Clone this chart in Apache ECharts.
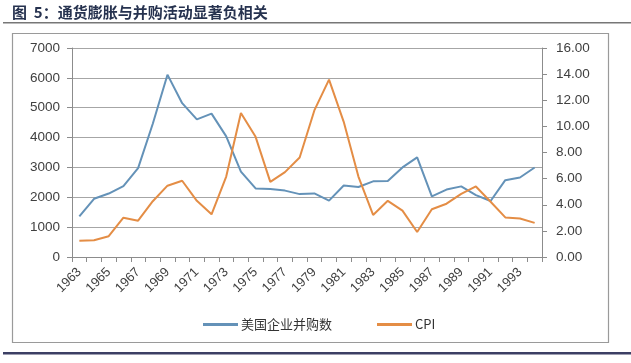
<!DOCTYPE html>
<html>
<head>
<meta charset="utf-8">
<script src="https://cdn.jsdelivr.net/npm/echarts@6/dist/echarts.min.js"></script>
<style>
html,body{margin:0;padding:0;background:#fff;}
#c{width:631px;height:363px;}
</style>
</head>
<body>
<div id="c"></div>
<script>
var years = [];
for (var y = 1963; y <= 1994; y++) years.push(String(y));
var mnaCounts = [1361,1950,2125,2377,2975,4462,6107,5152,4608,4801,4040,2861,2297,2276,2224,2106,2128,1889,2395,2346,2533,2543,3001,3336,2032,2258,2366,2074,1877,2574,2663,2997];
var cpi = [1.24,1.28,1.59,3.01,2.78,4.27,5.46,5.84,4.30,3.27,6.16,11.03,9.20,5.75,6.50,7.62,11.22,13.58,10.35,6.16,3.22,4.30,3.55,1.91,3.66,4.08,4.83,5.40,4.23,3.03,2.95,2.61];
var seriesNames = ['美国企业并购数', 'CPI'];
var titleText = '图  5：通货膨胀与并购活动显著负相关';

var FONT = '"Liberation Sans", "Noto Sans CJK SC", sans-serif';
var chart = echarts.init(document.getElementById('c'), null, {renderer: 'canvas'});
chart.setOption({
  animation: false,
  backgroundColor: '#fff',
  textStyle: {fontFamily: FONT},
  graphic: [
    {type: 'text', left: 12, top: 5, style: {text: titleText, fill: '#26324f', font: 'bold 15px "Noto Sans CJK SC", sans-serif'}},
    {type: 'rect', shape: {x: 3, y: 22, width: 628, height: 1.5}, style: {fill: '#777'}},
    {type: 'rect', shape: {x: 12.5, y: 33.5, width: 596, height: 309}, style: {fill: 'none', stroke: '#9a9a9a', lineWidth: 1.2}},
    {type: 'rect', shape: {x: 3, y: 352, width: 628, height: 2.5}, style: {fill: '#3c3f64'}}
  ],
  grid: {left: 72, right: 89, top: 48, bottom: 106},
  legend: {
    left: 198, top: 313,
    itemWidth: 35, itemHeight: 3, itemGap: 45,
    icon: 'rect',
    textStyle: {fontSize: 13, color: '#333', fontFamily: '"Noto Sans CJK SC", sans-serif', padding: [0,0,0,-2]},
    data: seriesNames
  },
  xAxis: {
    type: 'category',
    data: years,
    boundaryGap: true,
    axisLine: {lineStyle: {color: '#8c8c8c', width: 1}},
    axisTick: {show: true, interval: 0, length: 5, lineStyle: {color: '#8c8c8c'}},
    axisLabel: {interval: 1, rotate: 45, fontSize: 13, color: '#404040', margin: 13}
  },
  yAxis: [
    {
      type: 'value', min: 0, max: 7000, interval: 1000,
      axisLine: {show: true, lineStyle: {color: '#8c8c8c'}},
      axisTick: {show: true, length: 5, lineStyle: {color: '#8c8c8c'}},
      axisLabel: {fontSize: 13.5, color: '#404040', margin: 12, formatter: function (v) { return String(v); }},
      splitLine: {lineStyle: {color: '#a6a6a6', width: 1}}
    },
    {
      type: 'value', min: 0, max: 16, interval: 2,
      axisLine: {show: true, lineStyle: {color: '#8c8c8c'}},
      axisTick: {show: true, length: 5, lineStyle: {color: '#8c8c8c'}},
      axisLabel: {fontSize: 13.5, color: '#404040', margin: 14, formatter: function (v) { return v.toFixed(2); }},
      splitLine: {show: false}
    }
  ],
  series: [
    {name: seriesNames[0], type: 'line', yAxisIndex: 0, data: mnaCounts, symbol: 'none',
     lineStyle: {color: '#6492b8', width: 2}, itemStyle: {color: '#6492b8'}},
    {name: seriesNames[1], type: 'line', yAxisIndex: 1, data: cpi, symbol: 'none',
     lineStyle: {color: '#e48d45', width: 2}, itemStyle: {color: '#e48d45'}}
  ]
});
</script>
</body>
</html>
